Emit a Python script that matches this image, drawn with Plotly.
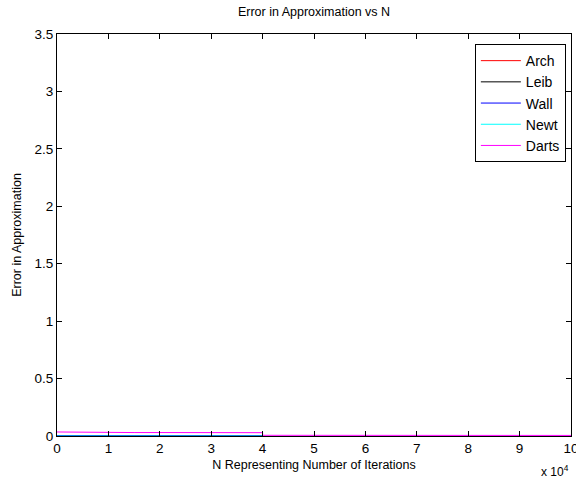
import plotly.graph_objects as go

# Data (error values)
n_short = [1, 5000, 10000, 15000, 20000, 25000, 30000, 35000, 40000]
arch_err = [0.0, 0.0, 0.0, 0.0, 0.0, 0.0, 0.0, 0.0, 0.0]
leib_err = [0.0, 0.0, 0.0, 0.0, 0.0, 0.0, 0.0, 0.0, 0.0]
wall_err = [0.003, 0.002, 0.002, 0.002, 0.002, 0.002, 0.002, 0.002, 0.002]
newt_err = [0.0, 0.0, 0.0, 0.0, 0.0, 0.0, 0.0, 0.0, 0.0]
n_darts = [1, 5000, 10000, 15000, 20000, 25000, 30000, 35000, 40000, 40001,
           50000, 60000, 70000, 80000, 90000, 100000]
darts_err = [0.035, 0.032, 0.031, 0.030, 0.030, 0.029, 0.029, 0.029, 0.029, 0.006,
             0.006, 0.005, 0.005, 0.005, 0.005, 0.005]

names = ["Arch", "Leib", "Wall", "Newt", "Darts"]
colors = ["#ff0000", "#000000", "#0000ff", "#00ffff", "#ff00ff"]

xtick_vals = [0, 10000, 20000, 30000, 40000, 50000, 60000, 70000, 80000, 90000, 100000]
xtick_text = ["0", "1", "2", "3", "4", "5", "6", "7", "8", "9", "10"]
ytick_vals = [0, 0.5, 1, 1.5, 2, 2.5, 3, 3.5]
ytick_text = ["0", "0.5", "1", "1.5", "2", "2.5", "3", "3.5"]

series = [(n_short, arch_err), (n_short, leib_err), (n_short, wall_err),
          (n_short, newt_err), (n_darts, darts_err)]

fig = go.Figure()
for (xs, ys), name, col in zip(series, names, colors):
    fig.add_trace(go.Scatter(x=xs, y=ys, mode="lines", name=name,
                             line=dict(color=col, width=1)))

font_family = "Liberation Sans, Arial, sans-serif"
axis_common = dict(showline=True, linecolor="black", linewidth=1, mirror="ticks",
                   ticks="inside", ticklen=5, tickcolor="black", showgrid=False,
                   zeroline=False, ticklabeloverflow="allow", automargin=False,
                   tickfont=dict(size=13.5, color="black", family=font_family))

fig.update_layout(
    width=576, height=485,
    margin=dict(l=57, r=5, t=34, b=49),
    paper_bgcolor="white", plot_bgcolor="white",
    font=dict(family=font_family, color="black"),
    title=dict(text="Error in Approximation vs N", x=(57 + 257) / 576, xanchor="center",
               y=1 - 12 / 485, yanchor="middle", font=dict(size=12.5, color="black")),
    xaxis=dict(range=[0, 100000], tickvals=xtick_vals, ticktext=xtick_text,
               title=dict(text="N Representing Number of Iterations", standoff=5,
                          font=dict(size=12.5)), **axis_common),
    yaxis=dict(range=[0, 3.5], tickvals=ytick_vals, ticktext=ytick_text,
               title=dict(text="Error in Approximation", standoff=10,
                          font=dict(size=12.5)), **axis_common),
    legend=dict(x=0.99, y=0.975, xanchor="right", yanchor="top",
                bgcolor="white", bordercolor="black", borderwidth=1,
                font=dict(size=14, color="black"), itemwidth=40,
                tracegroupgap=0),
    showlegend=True,
)

fig.add_annotation(text="x 10<sup>4</sup>", xref="paper", yref="paper",
                   x=1.0, y=-0.062, xanchor="right", yanchor="top",
                   showarrow=False, font=dict(size=12, color="black"))

fig.write_html("out.html")
